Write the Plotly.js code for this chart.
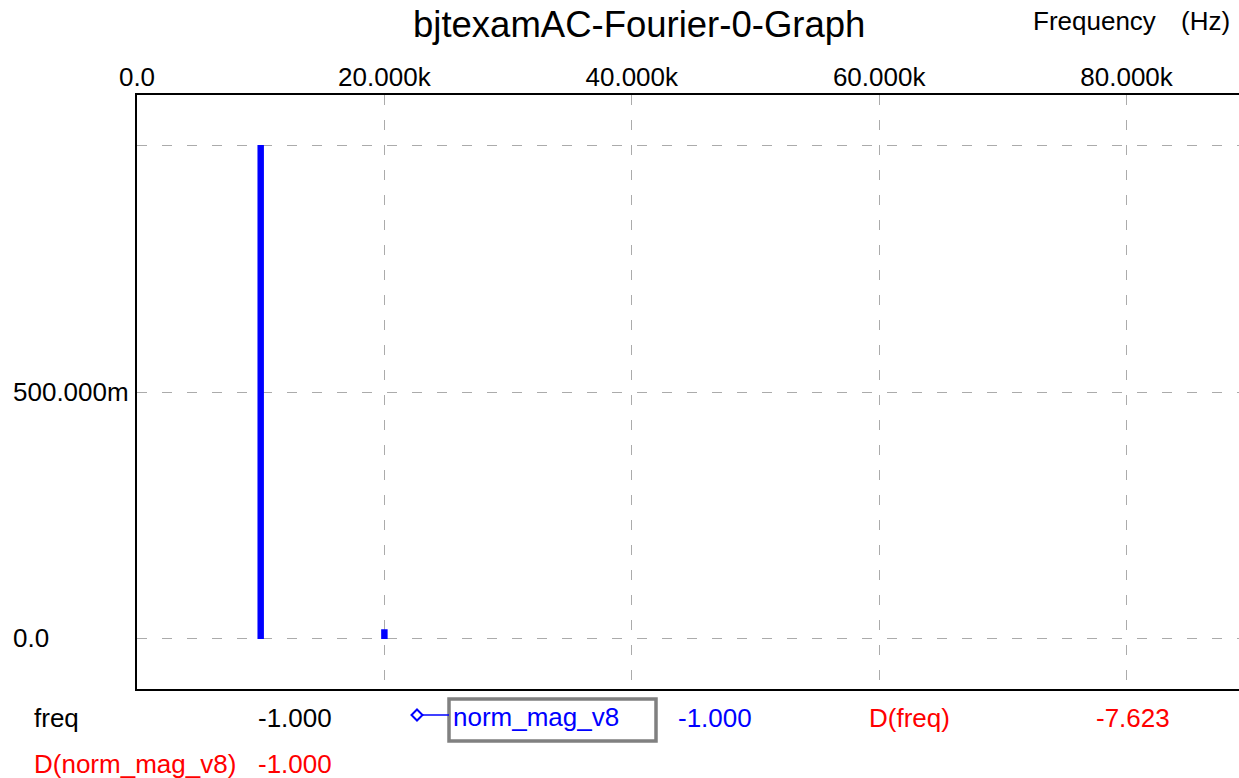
<!DOCTYPE html>
<html>
<head>
<meta charset="utf-8">
<script src="https://cdn.plot.ly/plotly-3.0.1.min.js"></script>
<style>html,body{margin:0;padding:0;background:#fff;}#chart{width:1239px;height:778px;}</style>
</head>
<body>
<div id="chart"></div>
<script>
// ---- data ----
const freqs = [10000, 20000];
const normMag = [1.0, 0.016];
const xTickVals = [0, 20000, 40000, 60000, 80000];
const xTickText = ["0.0", "20.000k", "40.000k", "60.000k", "80.000k"];
const yTickVals = [0, 0.5, 1.0];
const yTickText = ["0.0", "500.000m", ""];
const chartTitle = "bjtexamAC-Fourier-0-Graph";
const seriesName = "norm_mag_v8";
const cursorRow1 = [["freq", "-1.000"], [seriesName, "-1.000"], ["D(freq)", "-7.623"]];
const cursorRow2 = [["D(norm_mag_v8)", "-1.000"]];

// ---- layout helpers ----
const W = 1239, H = 778, ML = 137, MR = 0, MT = 95, MB = 89;
const PW = W - ML - MR, PH = H - MT - MB;
const px = x => (x - ML) / PW;
const py = y => (H - MB - y) / PH;
const FONT = '"Liberation Sans", Arial, sans-serif';

const annotations = [];
function txt(text, x, y, anchor, color, size) {
  annotations.push({text: text, xref: 'paper', yref: 'paper', x: px(x), y: py(y),
    xanchor: anchor, yanchor: 'middle', showarrow: false,
    font: {family: FONT, size: size || 26, color: color || '#000'}});
}
// title & axis label
txt(chartTitle, 639, 25, 'center', '#000', 36.5);
txt("Frequency", 1031, 21, 'left', '#000', 26);
txt("(Hz)", 1179, 21, 'left', '#000', 26);
// y tick labels (left aligned)
yTickVals.forEach((v, i) => {
  if (!yTickText[i]) return;
  annotations.push({text: yTickText[i], xref: 'paper', yref: 'y', x: px(11), y: v,
    xanchor: 'left', yanchor: 'middle', showarrow: false,
    font: {family: FONT, size: 26, color: '#000'}});
});
// cursor readouts
txt(cursorRow1[0][0], 32, 718, 'left', '#000');
txt(cursorRow1[0][1], 334, 718, 'right', '#000');
txt(cursorRow1[1][0], 451, 717, 'left', '#0000ff');
txt(cursorRow1[1][1], 676, 718, 'left', '#0000ff');
txt(cursorRow1[2][0], 867, 718, 'left', '#ff0000');
txt(cursorRow1[2][1], 1094, 718, 'left', '#ff0000');
txt(cursorRow2[0][0], 32, 764, 'left', '#ff0000');
txt(cursorRow2[0][1], 334, 764, 'right', '#ff0000');

const shapes = [
  // legend box
  {type: 'rect', xref: 'paper', yref: 'paper', x0: px(449), x1: px(656), y0: py(699), y1: py(741),
   line: {color: '#808080', width: 3.5}, fillcolor: 'rgba(0,0,0,0)'},
  // legend line
  {type: 'line', xref: 'paper', yref: 'paper', x0: px(422), x1: px(449), y0: py(715), y1: py(715),
   line: {color: '#0000ff', width: 1.5}},
  // diamond
  {type: 'path', xref: 'paper', yref: 'paper',
   path: `M ${px(417)} ${py(709.5)} L ${px(422.5)} ${py(715)} L ${px(417)} ${py(720.5)} L ${px(411.5)} ${py(715)} Z`,
   line: {color: '#0000ff', width: 2}, fillcolor: 'rgba(0,0,0,0)'}
];

const trace = {
  type: 'bar', x: freqs, y: normMag, width: 360, name: seriesName,
  marker: {color: '#0000ff', line: {width: 2, color: '#0000ff'}}, hoverinfo: 'skip'
};

const layout = {
  width: W, height: H,
  margin: {l: ML, r: MR, t: MT, b: MB, pad: 0},
  paper_bgcolor: '#fff', plot_bgcolor: '#fff',
  showlegend: false,
  font: {family: FONT, size: 26, color: '#000'},
  xaxis: {
    side: 'top', range: [0, 89090], tickvals: xTickVals, ticktext: xTickText,
    showgrid: true, gridcolor: '#ababab', gridwidth: 1, griddash: '10px,15px',
    zeroline: false, showline: true, linecolor: '#000', linewidth: 2, mirror: true,
    ticks: '', ticklabelstandoff: -3,
    tickfont: {family: FONT, size: 26, color: '#000'}, fixedrange: true
  },
  yaxis: {
    range: [-0.1035, 1.1035], tickvals: yTickVals, showticklabels: false,
    showgrid: true, gridcolor: '#ababab', gridwidth: 1, griddash: '10px,15px',
    zeroline: false, showline: true, linecolor: '#000', linewidth: 2, mirror: false,
    ticks: '', fixedrange: true
  },
  annotations: annotations,
  shapes: shapes,
  bargap: 0
};

Plotly.newPlot('chart', [trace], layout, {displayModeBar: false, staticPlot: true});
</script>
</body>
</html>
